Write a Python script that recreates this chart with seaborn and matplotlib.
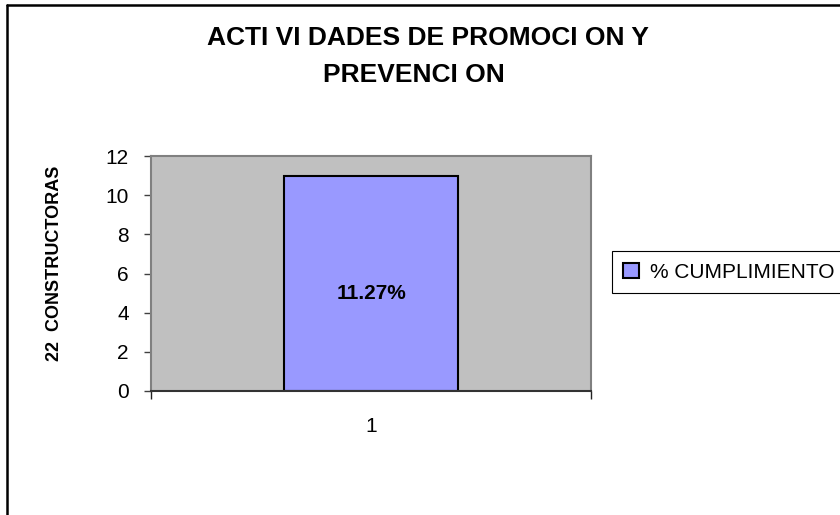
"""Bar chart: actividades de promocion y prevencion."""

import matplotlib

matplotlib.use("Agg")

import matplotlib.pyplot as plt
import pandas as pd
import seaborn as sns
from matplotlib.lines import Line2D
from matplotlib.ticker import FixedLocator

# data
categorias = ["1"]
valores = [11]
serie = ["% CUMPLIMIENTO"]
etiqueta_barra = "11.27%"
yticks = [0, 2, 4, 6, 8, 10, 12]

titulo_1 = "ACTI VI DADES DE PROMOCI ON Y"
titulo_2 = "PREVENCI ON"
ylabel = "22  CONSTRUCTORAS"

df = pd.DataFrame({"categoria": categorias, "valor": valores, "serie": serie})

sns.set_style("white")
plt.rcParams["font.family"] = ["Liberation Sans", "DejaVu Sans"]
plt.rcParams["text.color"] = "black"
plt.rcParams["axes.labelcolor"] = "black"
plt.rcParams["xtick.labelcolor"] = "black"
plt.rcParams["ytick.labelcolor"] = "black"

W, H = 840, 515
fig = plt.figure(figsize=(W / 100, H / 100), dpi=100)
ax = fig.add_axes([151 / W, 1 - 391 / H, 440 / W, 235 / H])

sns.barplot(
    data=df,
    x="categoria",
    y="valor",
    hue="serie",
    palette=["#9999FF"],
    width=0.395,
    edgecolor="black",
    linewidth=1.5,
    saturation=1,
    ax=ax,
)

ax.set_facecolor("#C0C0C0")
ax.set_xlim(-0.5, 0.5)
ax.set_ylim(0, 12)
ax.set_yticks(yticks)
ax.tick_params(axis="y", labelsize=15, length=5, width=1, color="#404040",
               direction="out", pad=11, left=True)
ax.tick_params(axis="x", which="major", labelsize=15, length=0, pad=19)
ax.xaxis.set_minor_locator(FixedLocator([-0.5, 0.5]))
ax.tick_params(axis="x", which="minor", length=6, width=1, color="#222222",
               direction="out", bottom=True)

for side in ["top", "right", "left"]:
    ax.spines[side].set_color("#808080")
    ax.spines[side].set_linewidth(1.5)
ax.spines["bottom"].set_color("#333333")
ax.spines["bottom"].set_linewidth(1.5)

ax.set_xlabel("")
ax.set_ylabel(ylabel, fontsize=13, fontweight="bold")
ax.yaxis.set_label_coords(-0.2, 0.545)

ax.text(0, 5, etiqueta_barra, ha="center", va="center",
        fontsize=15, fontweight="bold")

handles, labels = ax.get_legend_handles_labels()
ax.legend(
    handles, labels,
    loc="center left",
    bbox_to_anchor=(612 / W, 1 - 272 / H),
    bbox_transform=fig.transFigure,
    frameon=True,
    fancybox=False,
    edgecolor="black",
    framealpha=1,
    fontsize=15,
    handlelength=0.75,
    handleheight=0.75,
    handletextpad=0.5,
    borderpad=0.55,
    borderaxespad=0,
)
ax.get_legend().get_frame().set_linewidth(0.8)

fig.text(428 / W, 1 - 38 / H, titulo_1, ha="center", va="center",
         fontsize=19, fontweight="bold")
fig.text(414 / W, 1 - 75 / H, titulo_2, ha="center", va="center",
         fontsize=19, fontweight="bold")

# chart-area border (left and top edges visible)
fig.add_artist(Line2D([7 / W, 7 / W], [0, 1 - 5 / H],
                      transform=fig.transFigure, color="black", lw=1.8))
fig.add_artist(Line2D([7 / W, 1], [1 - 5 / H, 1 - 5 / H],
                      transform=fig.transFigure, color="black", lw=1.8))

fig.savefig("out.png", dpi=100)
